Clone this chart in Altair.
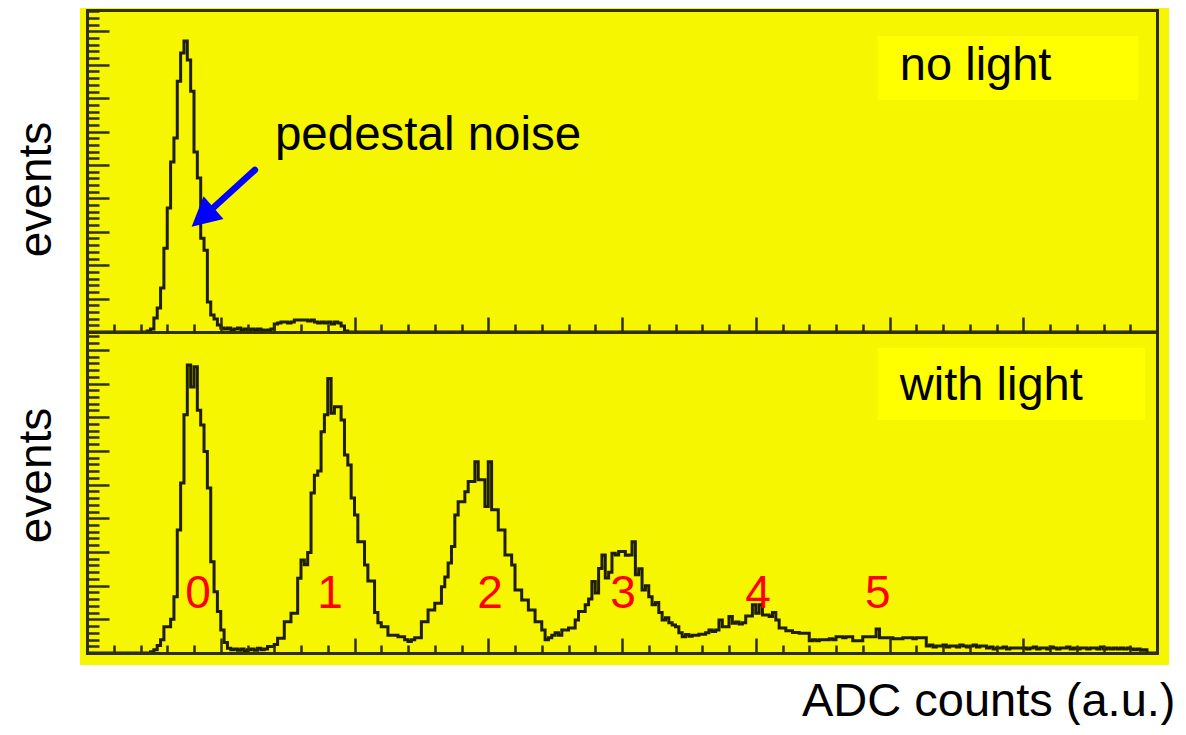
import altair as alt
import pandas as pd

# ---------------- data ----------------
N_BINS = 320  # ADC bins (a.u.)

# "no light" spectrum, counts per bin starting at bin 18
TOP_FIRST_BIN = 18
top_counts = [
    3, 9,
    42, 72, 132, 251, 371, 509, 581, 751, 835, 871,
    814, 721, 539, 461, 281, 245, 90, 51, 39, 21,
    12, 9, 12, 6, 9, 12, 6, 9, 6, 9,
    6, 9, 6, 3, 6, 9, 24, 27, 30, 30,
    27, 30, 36, 36, 36, 36, 33, 36, 30, 27,
    30, 27, 30, 24, 30, 27, 18, 3,
]

# "with light" spectrum, counts per bin starting at bin 19
BOTTOM_FIRST_BIN = 19
bottom_counts = [
    4, 10, 22, 39, 78, 78, 100, 167, 365, 505,
    707, 855, 790, 850, 721, 677, 598, 490, 271, 182,
    123, 68, 31, 14, 10, 12, 8, 12, 6, 10,
    12, 8, 14, 10, 12, 19, 19, 25, 44, 44,
    93, 93, 118, 118, 222, 276, 262, 298, 475, 528,
    540, 657, 707, 815, 712, 731, 731, 692, 588, 558,
    460, 410, 330, 330, 261, 214, 214, 120, 90, 78,
    78, 53, 53, 53, 48, 48, 39, 34, 39, 45,
    45, 93, 93, 128, 128, 148, 148, 197, 226, 267,
    316, 410, 449, 449, 479, 509, 509, 568, 514, 514,
    435, 568, 425, 425, 365, 365, 291, 291, 261, 187,
    187, 157, 157, 128, 128, 93, 93, 68, 39, 45,
    53, 60, 53, 68, 68, 74, 74, 98, 123, 123,
    143, 160, 212, 178, 251, 291, 223, 240, 296, 291,
    301, 301, 290, 291, 330, 232, 250, 187, 200, 167,
    143, 150, 120, 98, 105, 90, 83, 78, 60, 48,
    55, 50, 53, 53, 56, 56, 60, 68, 64, 68,
    98, 78, 78, 108, 88, 92, 86, 90, 110, 110,
    143, 118, 143, 113, 113, 108, 120, 98, 74, 74,
    66, 66, 61, 61, 59, 59, 59, 36, 39, 36,
    39, 39, 39, 42, 39, 48, 48, 45, 48, 48,
    36, 36, 36, 48, 48, 48, 48, 71, 45, 45,
    45, 45, 42, 42, 42, 45, 45, 45, 42, 45,
    45, 45, 21, 24, 18, 21, 21, 24, 18, 21,
    21, 18, 24, 21, 18, 21, 24, 18, 21, 21,
    15, 18, 12, 15, 15, 18, 12, 15, 15, 15,
    15, 15, 12, 15, 18, 12, 15, 15, 12, 18,
    15, 12, 15, 15, 18, 12, 15, 12, 15, 15,
    12, 15, 15, 12, 18, 12, 15, 12, 15, 12,
    15, 12, 15, 12, 10, 12, 8, 10,
]

# photo-electron peak labels
peak_names = ["0", "1", "2", "3", "4", "5"]
peak_adc = [33.2, 72.7, 120.5, 160.3, 200.7, 236.5]
peak_label_events = [134, 134, 134, 134, 134, 134]

# annotations
panel_names = ["no light", "with light"]
panel_label_adc = [243.1, 243.1]
panel_label_events = [754, 751]
box_adc = [[236.5, 314.3], [236.5, 316.4]]
box_events = [[695, 886], [692, 906]]
pedestal_text = "pedestal noise"
pedestal_adc, pedestal_events = 56.2, 545
arrow_start = (50.2, 485)
arrow_end = (37.9, 373)
arrow_tip = (31.3, 315)

# axis tick values
X_MAJOR = [40, 80, 120, 160, 200, 240, 280]
X_MINOR = [v for v in range(8, 320, 8) if v % 40]
YT_MAJOR = [100, 200, 300, 400, 500, 600, 700, 800, 900]
YT_MINOR = [v for v in range(20, 964, 20) if v % 100]
YB_MAJOR = [100, 200, 300, 400, 500, 600, 700, 800, 900]
YB_MINOR = [v for v in range(20, 953, 20) if v % 100]

# ---------------- style ----------------
W, H = 1070, 643
SPLIT = 322
FONT = "Liberation Sans"
FRAME = "#2f2f00"
LINE = "#1f1f00"
YELLOW = "#f6f600"
BOX = "#ffff00"
BLUE = "#0000ff"
RED = "#ff0000"

XS = alt.Scale(domain=[0, N_BINS], range=[0, W], nice=False, zero=False)
YT = alt.Scale(domain=[0, 964], range=[SPLIT, 0], nice=False)
YB = alt.Scale(domain=[0, 953], range=[H, SPLIT], nice=False)
YF = alt.Scale(domain=[0, 1], range=[H, 0], nice=False)


def hist_df(first, counts):
    full = [0] * N_BINS
    for i, c in enumerate(counts):
        full[first + i] = c
    return pd.DataFrame({"adc": list(range(N_BINS + 1)), "events": full + [full[-1]]})


top_df = hist_df(TOP_FIRST_BIN, top_counts)
bottom_df = hist_df(BOTTOM_FIRST_BIN, bottom_counts)
one = pd.DataFrame({"adc": [0], "events": [0]})


def tick_axis(orient, offset, values, size, domain):
    return alt.Axis(orient=orient, offset=offset, values=values, tickSize=size,
                    ticks=True, labels=False, grid=False, domain=domain, title="",
                    tickColor=FRAME, tickWidth=2.5, domainColor=FRAME,
                    domainWidth=3, domainCap="square", zindex=2)


def edge_axis(orient):
    return alt.Axis(orient=orient, ticks=False, labels=False, grid=False,
                    domain=True, title="", domainColor=FRAME, domainWidth=3,
                    domainCap="square", zindex=2)


def title_y_axis(ty):
    return alt.Axis(orient="left", ticks=False, labels=False, grid=False,
                    domain=False, title="events", titleFont=FONT,
                    titleFontSize=46, titleFontWeight="normal",
                    titleColor="black", titleAngle=270, titleX=-37,
                    titleY=ty, titleAlign="center", titleBaseline="alphabetic",
                    zindex=2)


x_title_axis = alt.Axis(orient="bottom", ticks=False, labels=False, grid=False,
                        domain=False, title="ADC counts (a.u.)", titleFont=FONT,
                        titleFontSize=47, titleFontWeight="normal",
                        titleColor="black", titleAngle=0, titleX=1088,
                        titleY=62, titleAlign="right",
                        titleBaseline="alphabetic", zindex=2)

layers = []

# yellow pad
layers.append(alt.Chart(one).mark_rect(color=YELLOW).encode(
    x=alt.value(-7), x2=alt.value(W + 12), y=alt.value(-2), y2=alt.value(H + 12)))

# brighter label boxes
for i, ys in enumerate([YT, YB]):
    bdf = pd.DataFrame({"x0": [box_adc[i][0]], "x1": [box_adc[i][1]],
                        "y0": [box_events[i][0]], "y1": [box_events[i][1]]})
    layers.append(alt.Chart(bdf).mark_rect(color=BOX).encode(
        x=alt.X("x0:Q", scale=XS, axis=None), x2="x1:Q",
        y=alt.Y("y0:Q", scale=ys, axis=None), y2="y1:Q"))

# top panel histogram + ticks
layers.append(alt.Chart(top_df).mark_line(interpolate="step-after", color=LINE, strokeWidth=3).encode(
    x=alt.X("adc:Q", scale=XS, axis=tick_axis("top", -SPLIT, X_MAJOR, 15, True)),
    y=alt.Y("events:Q", scale=YT, axis=tick_axis("right", -W, YT_MAJOR, 22, True))))
layers.append(alt.Chart(top_df).mark_line(opacity=0).encode(
    x=alt.X("adc:Q", scale=XS, axis=tick_axis("top", -SPLIT, X_MINOR, 8, False)),
    y=alt.Y("events:Q", scale=YT, axis=tick_axis("right", -W, YT_MINOR, 12, False))))
layers.append(alt.Chart(one).mark_point(opacity=0).encode(
    x=alt.X("adc:Q", scale=XS, axis=edge_axis("top")),
    y=alt.Y("events:Q", scale=YT, axis=title_y_axis(179))))

# bottom panel histogram + ticks
layers.append(alt.Chart(bottom_df).mark_line(interpolate="step-after", color=LINE, strokeWidth=3).encode(
    x=alt.X("adc:Q", scale=XS, axis=tick_axis("top", -H, X_MAJOR, 15, True)),
    y=alt.Y("events:Q", scale=YB, axis=tick_axis("right", -W, YB_MAJOR, 22, True))))
layers.append(alt.Chart(bottom_df).mark_line(opacity=0).encode(
    x=alt.X("adc:Q", scale=XS, axis=tick_axis("top", -H, X_MINOR, 8, False)),
    y=alt.Y("events:Q", scale=YB, axis=tick_axis("right", -W, YB_MINOR, 12, False))))
layers.append(alt.Chart(one).mark_point(opacity=0).encode(
    x=alt.X("adc:Q", scale=XS, axis=x_title_axis),
    y=alt.Y("events:Q", scale=YB, axis=title_y_axis(465))))

# right frame edge
layers.append(alt.Chart(one).mark_point(opacity=0).encode(
    x=alt.X("adc:Q", scale=XS, axis=None),
    y=alt.Y("events:Q", scale=YF, axis=edge_axis("right"))))

# panel labels
for i, ys in enumerate([YT, YB]):
    tdf = pd.DataFrame({"adc": [panel_label_adc[i]], "events": [panel_label_events[i]],
                        "label": [panel_names[i]]})
    layers.append(alt.Chart(tdf).mark_text(align="left", baseline="alphabetic", font=FONT,
                                           fontSize=47, color="black").encode(
        x=alt.X("adc:Q", scale=XS, axis=None),
        y=alt.Y("events:Q", scale=ys, axis=None), text="label:N"))

# peak numbers
pdf = pd.DataFrame({"adc": peak_adc, "events": peak_label_events, "label": peak_names})
layers.append(alt.Chart(pdf).mark_text(align="center", baseline="alphabetic", font=FONT,
                                       fontSize=46, color=RED).encode(
    x=alt.X("adc:Q", scale=XS, axis=None),
    y=alt.Y("events:Q", scale=YB, axis=None), text="label:N"))

# pedestal noise annotation
ped = pd.DataFrame({"adc": [pedestal_adc], "events": [pedestal_events], "label": [pedestal_text]})
layers.append(alt.Chart(ped).mark_text(align="left", baseline="alphabetic", font=FONT,
                                       fontSize=47.5, color="black").encode(
    x=alt.X("adc:Q", scale=XS, axis=None),
    y=alt.Y("events:Q", scale=YT, axis=None), text="label:N"))

arr = pd.DataFrame({"x0": [arrow_start[0]], "y0": [arrow_start[1]],
                    "x1": [arrow_end[0]], "y1": [arrow_end[1]]})
layers.append(alt.Chart(arr).mark_rule(color=BLUE, strokeWidth=6.5, strokeCap="round").encode(
    x=alt.X("x0:Q", scale=XS, axis=None), x2="x1:Q",
    y=alt.Y("y0:Q", scale=YT, axis=None), y2="y1:Q"))

tip = pd.DataFrame({"adc": [arrow_tip[0]], "events": [arrow_tip[1]]})
layers.append(alt.Chart(tip).mark_point(shape="M0,0L0.52,1L-0.52,1Z", filled=True, size=3364,
                                        angle=228.9, color=BLUE, opacity=1, strokeWidth=0).encode(
    x=alt.X("adc:Q", scale=XS, axis=None),
    y=alt.Y("events:Q", scale=YT, axis=None)))

chart = alt.layer(*layers).resolve_scale(
    x="independent", y="independent"
).resolve_axis(
    x="independent", y="independent"
).properties(
    width=W, height=H,
    autosize=alt.AutoSizeParams(type="none"),
    padding={"left": 79, "top": 2, "right": 20, "bottom": 72},
).configure(font=FONT).configure_view(strokeWidth=0)

chart.save("out.html", embed_options={"renderer": "svg", "actions": False})
